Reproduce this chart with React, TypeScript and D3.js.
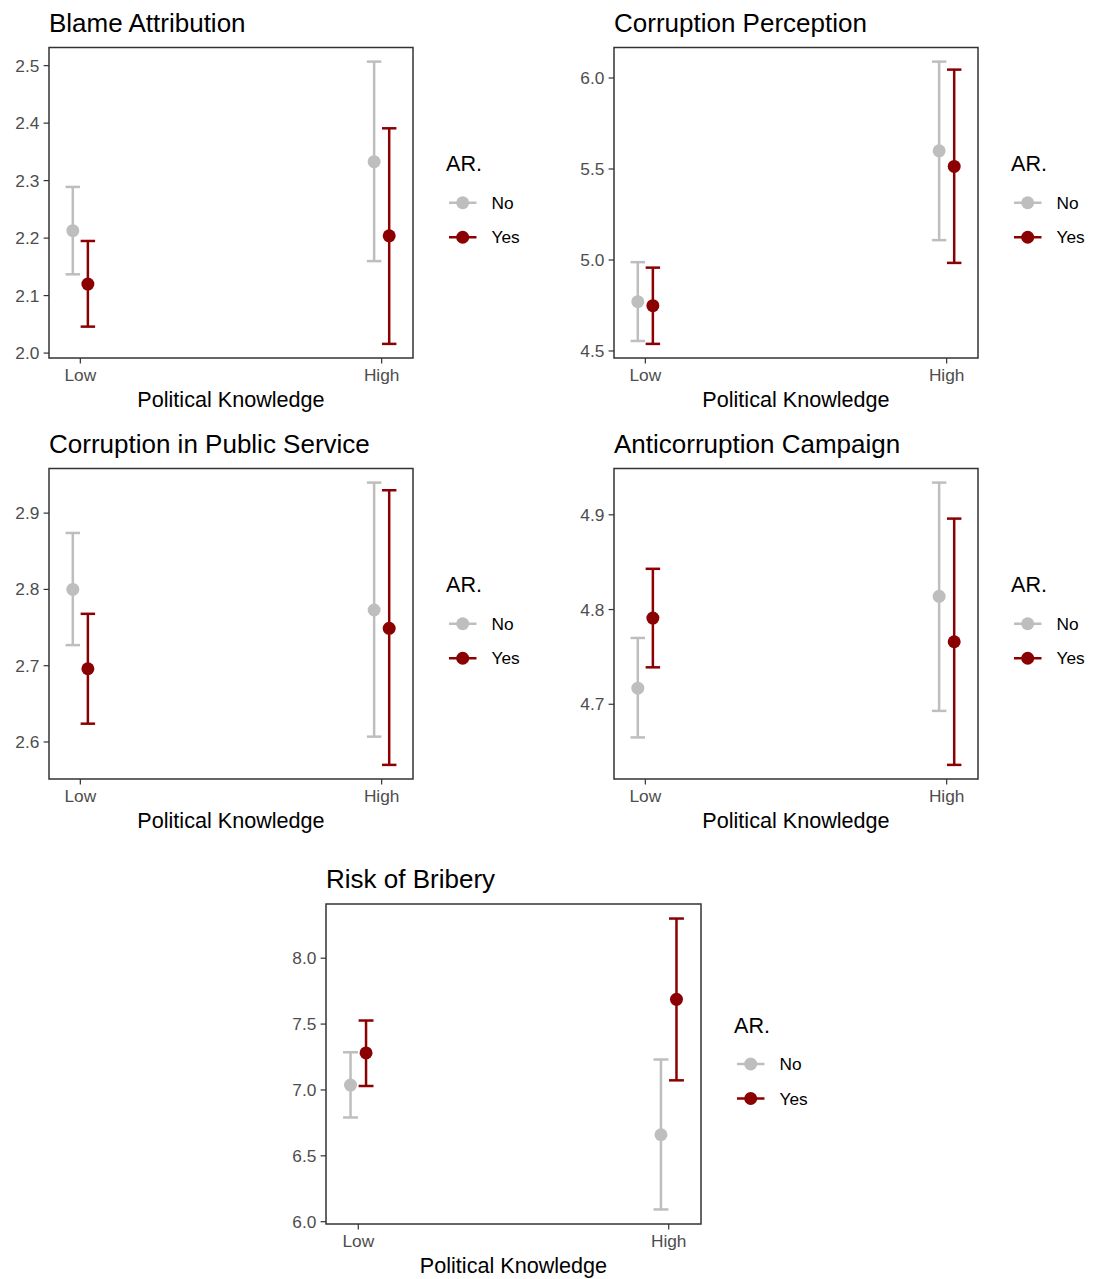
import React from "react";
import * as d3 from "d3";

// Political knowledge levels on the x axis and the AR. groups
const knowledge = ["Low", "High"];
const groups = ["No", "Yes"];
const groupColors = ["#BEBEBE", "#8B0000"];

// Blame Attribution
const blameNoEst = [2.213, 2.333];
const blameNoLo = [2.137, 2.160];
const blameNoHi = [2.289, 2.507];
const blameYesEst = [2.120, 2.204];
const blameYesLo = [2.046, 2.016];
const blameYesHi = [2.195, 2.391];
const blameTicks = [2.0, 2.1, 2.2, 2.3, 2.4, 2.5];

// Corruption Perception
const percNoEst = [4.771, 5.600];
const percNoLo = [4.555, 5.109];
const percNoHi = [4.988, 6.090];
const percYesEst = [4.749, 5.514];
const percYesLo = [4.539, 4.984];
const percYesHi = [4.958, 6.046];
const percTicks = [4.5, 5.0, 5.5, 6.0];

// Corruption in Public Service
const publicNoEst = [2.800, 2.773];
const publicNoLo = [2.727, 2.607];
const publicNoHi = [2.874, 2.940];
const publicYesEst = [2.696, 2.749];
const publicYesLo = [2.624, 2.570];
const publicYesHi = [2.768, 2.930];
const publicTicks = [2.6, 2.7, 2.8, 2.9];

// Anticorruption Campaign
const campNoEst = [4.717, 4.814];
const campNoLo = [4.665, 4.693];
const campNoHi = [4.770, 4.934];
const campYesEst = [4.791, 4.766];
const campYesLo = [4.739, 4.636];
const campYesHi = [4.843, 4.896];
const campTicks = [4.7, 4.8, 4.9];

// Risk of Bribery
const bribeNoEst = [7.037, 6.660];
const bribeNoLo = [6.791, 6.093];
const bribeNoHi = [7.286, 7.231];
const bribeYesEst = [7.281, 7.688];
const bribeYesLo = [7.030, 7.073];
const bribeYesHi = [7.527, 8.301];
const bribeTicks = [6.0, 6.5, 7.0, 7.5, 8.0];

type Series = { est: number[]; lo: number[]; hi: number[] };
type PanelSpec = {
  title: string;
  series: Series[];
  ticks: number[];
  left: number;
  top: number;
  width: number;
  height: number;
};

const panels: PanelSpec[] = [
  {
    title: "Blame Attribution",
    series: [
      { est: blameNoEst, lo: blameNoLo, hi: blameNoHi },
      { est: blameYesEst, lo: blameYesLo, hi: blameYesHi },
    ],
    ticks: blameTicks,
    left: 49, top: 47.5, width: 364, height: 310.5,
  },
  {
    title: "Corruption Perception",
    series: [
      { est: percNoEst, lo: percNoLo, hi: percNoHi },
      { est: percYesEst, lo: percYesLo, hi: percYesHi },
    ],
    ticks: percTicks,
    left: 614, top: 47.5, width: 364, height: 310.5,
  },
  {
    title: "Corruption in Public Service",
    series: [
      { est: publicNoEst, lo: publicNoLo, hi: publicNoHi },
      { est: publicYesEst, lo: publicYesLo, hi: publicYesHi },
    ],
    ticks: publicTicks,
    left: 49, top: 468.5, width: 364, height: 310.5,
  },
  {
    title: "Anticorruption Campaign",
    series: [
      { est: campNoEst, lo: campNoLo, hi: campNoHi },
      { est: campYesEst, lo: campYesLo, hi: campYesHi },
    ],
    ticks: campTicks,
    left: 614, top: 468.5, width: 364, height: 310.5,
  },
  {
    title: "Risk of Bribery",
    series: [
      { est: bribeNoEst, lo: bribeNoLo, hi: bribeNoHi },
      { est: bribeYesEst, lo: bribeYesLo, hi: bribeYesHi },
    ],
    ticks: bribeTicks,
    left: 326, top: 904, width: 375, height: 320,
  },
];

const FONT = "'Liberation Sans', Arial, Helvetica, sans-serif";
const DODGE = 0.025; // half of the dodge width, in category units
const CAP = 0.024; // half of the error bar cap width
const XPAD = 0.104; // x expansion around the two categories
const LINE_W = 2.5;
const PT_R = 6.5;

function Panel({ p }: { p: PanelSpec }) {
  const { left, top, width, height } = p;
  const right = left + width;
  const bottom = top + height;

  const x = d3.scaleLinear().domain([1 - XPAD, 2 + XPAD]).range([left, right]);
  const yMin = d3.min(p.series.flatMap((s) => s.lo)) as number;
  const yMax = d3.max(p.series.flatMap((s) => s.hi)) as number;
  const pad = (yMax - yMin) * 0.05;
  const y = d3.scaleLinear().domain([yMin - pad, yMax + pad]).range([bottom, top]);
  const fmt = d3.format(".1f");

  const xPos = (i: number, g: number) => x(i + 1 + (g === 0 ? -DODGE : DODGE));
  const midY = (top + bottom) / 2;

  return (
    <g>
      <text x={left} y={top - 16} fontSize={26} fontFamily={FONT} fill="#000">
        {p.title}
      </text>

      {/* error bars */}
      {p.series.map((s, g) =>
        knowledge.map((_, i) => {
          const cx = xPos(i, g);
          const c0 = x(i + 1 + (g === 0 ? -DODGE : DODGE) - CAP);
          const c1 = x(i + 1 + (g === 0 ? -DODGE : DODGE) + CAP);
          return (
            <g key={`eb-${g}-${i}`} stroke={groupColors[g]} strokeWidth={LINE_W} fill="none">
              <line x1={cx} x2={cx} y1={y(s.lo[i])} y2={y(s.hi[i])} />
              <line x1={c0} x2={c1} y1={y(s.lo[i])} y2={y(s.lo[i])} />
              <line x1={c0} x2={c1} y1={y(s.hi[i])} y2={y(s.hi[i])} />
            </g>
          );
        })
      )}

      {/* point estimates */}
      {p.series.map((s, g) =>
        knowledge.map((_, i) => (
          <circle
            key={`pt-${g}-${i}`}
            cx={xPos(i, g)}
            cy={y(s.est[i])}
            r={PT_R}
            fill={groupColors[g]}
          />
        ))
      )}

      {/* panel border */}
      <rect x={left} y={top} width={width} height={height} fill="none" stroke="#333333" strokeWidth={1.5} />

      {/* y axis */}
      {p.ticks.map((t) => (
        <g key={`yt-${t}`}>
          <line x1={left - 5.4} x2={left} y1={y(t)} y2={y(t)} stroke="#333333" strokeWidth={1.2} />
          <text
            x={left - 9.7}
            y={y(t)}
            dy="0.35em"
            textAnchor="end"
            fontSize={17.3}
            fontFamily={FONT}
            fill="#4D4D4D"
          >
            {fmt(t)}
          </text>
        </g>
      ))}

      {/* x axis */}
      {knowledge.map((k, i) => (
        <g key={`xt-${k}`}>
          <line x1={x(i + 1)} x2={x(i + 1)} y1={bottom} y2={bottom + 5.4} stroke="#333333" strokeWidth={1.2} />
          <text
            x={x(i + 1)}
            y={bottom + 23}
            textAnchor="middle"
            fontSize={17.3}
            fontFamily={FONT}
            fill="#4D4D4D"
          >
            {k}
          </text>
        </g>
      ))}
      <text
        x={(left + right) / 2}
        y={bottom + 49}
        textAnchor="middle"
        fontSize={21.6}
        fontFamily={FONT}
        fill="#000"
      >
        Political Knowledge
      </text>

      {/* legend */}
      <text x={right + 33} y={midY - 31.5} fontSize={21.6} fontFamily={FONT} fill="#000">
        AR.
      </text>
      {groups.map((gName, g) => {
        const ky = midY + g * 34.5;
        return (
          <g key={`lg-${gName}`}>
            <line
              x1={right + 36}
              x2={right + 63.5}
              y1={ky}
              y2={ky}
              stroke={groupColors[g]}
              strokeWidth={LINE_W}
            />
            <circle cx={right + 49.7} cy={ky} r={PT_R} fill={groupColors[g]} />
            <text
              x={right + 78.5}
              y={ky}
              dy="0.35em"
              fontSize={17.3}
              fontFamily={FONT}
              fill="#000"
            >
              {gName}
            </text>
          </g>
        );
      })}
    </g>
  );
}

export default function App() {
  return (
    <svg
      width={1093}
      height={1279}
      style={{ position: "absolute", left: 0, top: 0, background: "#fff" }}
    >
      <rect width={1093} height={1279} fill="#fff" />
      {panels.map((p) => (
        <Panel key={p.title} p={p} />
      ))}
    </svg>
  );
}
